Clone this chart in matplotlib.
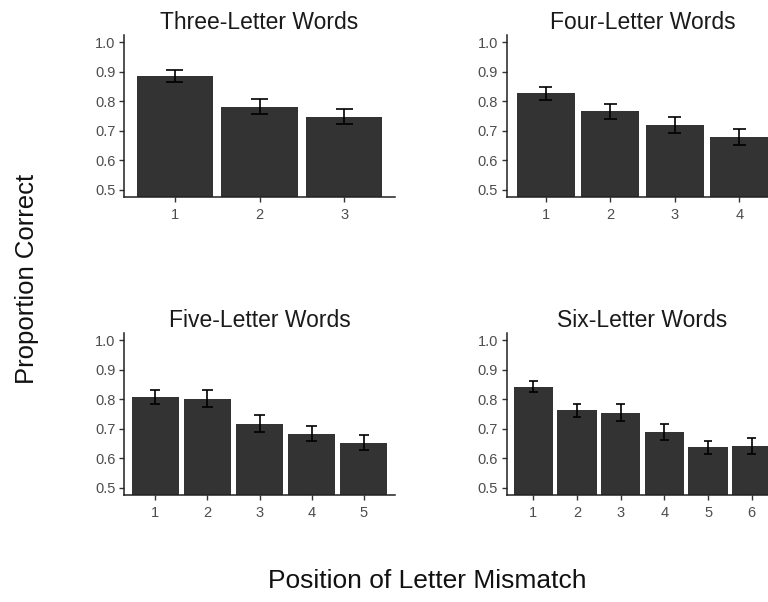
import matplotlib
matplotlib.use("Agg")
import matplotlib.pyplot as plt
import numpy as np

plt.rcParams['font.family'] = ['Liberation Sans', 'DejaVu Sans']

# ---- data ----
titles = ["Three-Letter Words", "Four-Letter Words", "Five-Letter Words", "Six-Letter Words"]
means_3 = [0.886, 0.782, 0.748]
se_3 = [0.019, 0.025, 0.025]
means_4 = [0.827, 0.766, 0.720, 0.680]
se_4 = [0.023, 0.025, 0.027, 0.027]
means_5 = [0.808, 0.802, 0.717, 0.683, 0.653]
se_5 = [0.024, 0.028, 0.028, 0.025, 0.026]
means_6 = [0.843, 0.762, 0.755, 0.690, 0.637, 0.641]
se_6 = [0.020, 0.023, 0.028, 0.027, 0.022, 0.028]
y_ticks = [0.5, 0.6, 0.7, 0.8, 0.9, 1.0]
y_label = "Proportion Correct"
x_label = "Position of Letter Mismatch"

all_means = [means_3, means_4, means_5, means_6]
all_se = [se_3, se_4, se_5, se_6]

W, H = 768, 602
fig = plt.figure(figsize=(W / 100, H / 100), dpi=100)

# axes rects in pixels: left, bottom(y from top), width, height
rects_px = [(124, 197, 271, 162), (507, 197, 271, 162),
            (124, 495, 271, 162), (507, 495, 271, 162)]

bar_color = "#333333"
tick_color = "#4D4D4D"

for i, (l, b, w, h) in enumerate(rects_px):
    ax = fig.add_axes([l / W, (H - b) / H, w / W, h / H])
    m = np.array(all_means[i])
    s = np.array(all_se[i])
    x = np.arange(1, len(m) + 1)
    ax.bar(x, m - 0.0, width=0.9, color=bar_color, bottom=0, zorder=2)
    lo = m - s
    hi = m + s
    ax.vlines(x, lo, hi, color="black", lw=1.2, zorder=3)
    ax.hlines(lo, x - 0.1, x + 0.1, color="black", lw=1.2, zorder=3)
    ax.hlines(hi, x - 0.1, x + 0.1, color="black", lw=1.2, zorder=3)
    ax.set_xlim(0.4, len(m) + 0.6)
    ax.set_ylim(0.475, 1.025)
    ax.set_xticks(x)
    ax.set_xticklabels([str(v) for v in x])
    ax.set_yticks(y_ticks)
    ax.set_yticklabels([f"{v:.1f}" for v in y_ticks])
    for sp in ["top", "right"]:
        ax.spines[sp].set_visible(False)
    for sp in ["left", "bottom"]:
        ax.spines[sp].set_color("#222222")
        ax.spines[sp].set_linewidth(1.1)
    ax.tick_params(axis="both", direction="out", length=3.8, width=1.0,
                   color="#333333", labelcolor=tick_color, labelsize=10.5)
    ax.tick_params(axis="x", pad=4)
    ax.tick_params(axis="y", pad=2.5)
    ax.set_title(titles[i], fontsize=16.5, color="#1a1a1a", pad=4.5)

fig.text(27 / W, 1 - 279 / H, y_label, rotation=90, ha="center", va="center",
         fontsize=18.5, color="#111111")
fig.text(427 / W, 1 - 588 / H, x_label, ha="center", va="baseline",
         fontsize=19, color="#111111")

fig.savefig("out.png", dpi=100)
